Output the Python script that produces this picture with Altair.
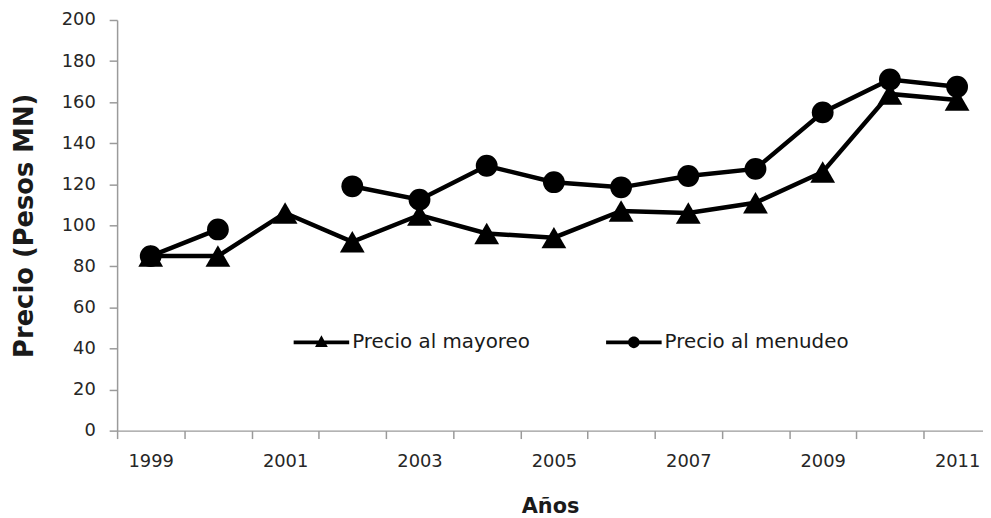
import altair as alt
import pandas as pd

years = list(range(1999, 2012))
mayoreo = [85, 85, 106, 92, 105, 96, 94, 107, 106, 111, 126, 164, 161]
menudeo = [85, 98, None, 119, 112.5, 129, 121, 118.5, 124, 127.5, 155, 171, 167.5]
series_names = ["Precio al mayoreo", "Precio al menudeo"]
y_ticks = list(range(0, 201, 20))
x_tick_bounds = [y - 0.5 for y in years]

rows = []
for name, vals in zip(series_names, [mayoreo, menudeo]):
    seg = 0
    for yr, v in zip(years, vals):
        if v is None:
            seg += 1
            continue
        rows.append({"year": yr, "value": v, "series": name, "segment": f"{name}-{seg}"})
df = pd.DataFrame(rows)

FONT = "DejaVu Sans"
STEP = 67.75
W = 873
x_end = 1998.5 + W / STEP

x_enc = alt.X(
    "year:Q",
    scale=alt.Scale(domain=[1998.5, x_end], nice=False, zero=False),
    axis=alt.Axis(
        values=x_tick_bounds,
        labelExpr="((datum.value + 0.5) % 2 == 1) ? format(datum.value + 0.5, 'd') : ''",
        labelOffset=STEP / 2,
        labelOverlap=False,
        labelBound=False,
        labelFlush=False,
        title="Años",
        titleFontSize=21,
        titlePadding=26,
        labelPadding=14,
    ),
)
y_enc = alt.Y(
    "value:Q",
    scale=alt.Scale(domain=[0, 200], nice=False),
    axis=alt.Axis(values=y_ticks, title="Precio (Pesos MN)", titleFontSize=26,
                  titlePadding=24, labelPadding=14),
)

line = alt.Chart(df).mark_line(color="black", strokeWidth=4.5).encode(
    x=x_enc, y=y_enc, detail="segment:N"
)
tri = alt.Chart(df).transform_filter(alt.datum.series == series_names[0]).mark_point(
    shape="triangle-up", filled=True, color="black", opacity=1, size=625
).encode(x=x_enc, y=y_enc)
circ = alt.Chart(df).transform_filter(alt.datum.series == series_names[1]).mark_point(
    shape="circle", filled=True, color="black", opacity=1, size=484
).encode(x=x_enc, y=y_enc)

path_tri = ("M-1,-0.07H-0.1V0.07H-1Z M0.1,-0.07H1V0.07H0.1Z "
            "M0,-0.26L0.23,0.17H-0.23Z")
path_circ = ("M-1,-0.07H-0.1V0.07H-1Z M0.1,-0.07H1V0.07H0.1Z "
             "M-0.21,0A0.21,0.21 0 1,1 0.21,0A0.21,0.21 0 1,1 -0.21,0Z")

legend_layer = alt.Chart(df).transform_filter(alt.datum.value < -1000).mark_point(
    filled=True, color="black", opacity=1
).encode(
    x=x_enc,
    y=y_enc,
    shape=alt.Shape(
        "series:N",
        scale=alt.Scale(domain=series_names, range=[path_tri, path_circ]),
        legend=alt.Legend(
            orient="none",
            legendX=178,
            legendY=297,
            direction="horizontal",
            title=None,
            symbolSize=3136,
            symbolFillColor="black",
            symbolStrokeColor="black",
            symbolStrokeWidth=0,
            symbolOpacity=1,
            labelFont=FONT,
            labelFontSize=20,
            labelLimit=400,
            labelColor="#1a1a1a",
            labelOffset=3,
            columnPadding=76,
            padding=0,
        ),
    ),
)

chart = (
    alt.layer(line, tri, circ, legend_layer)
    .resolve_scale(shape="independent")
    .properties(
        width=W,
        height=414,
        autosize=alt.AutoSizeParams(type="none"),
        padding={"left": 110, "top": 10, "right": 0, "bottom": 86},
    )
    .configure_view(stroke=None)
    .configure_axis(
        domainColor="#9a9a9a",
        domainWidth=1.5,
        tickColor="#9a9a9a",
        tickWidth=1.5,
        tickSize=8,
        grid=False,
        labelFont=FONT,
        labelFontSize=18,
        labelColor="#262626",
        titleFont=FONT,
        titleFontWeight="bold",
        titleColor="#1a1a1a",
    )
)

chart.save("out.html", embed_options={"renderer": "svg", "actions": False})
